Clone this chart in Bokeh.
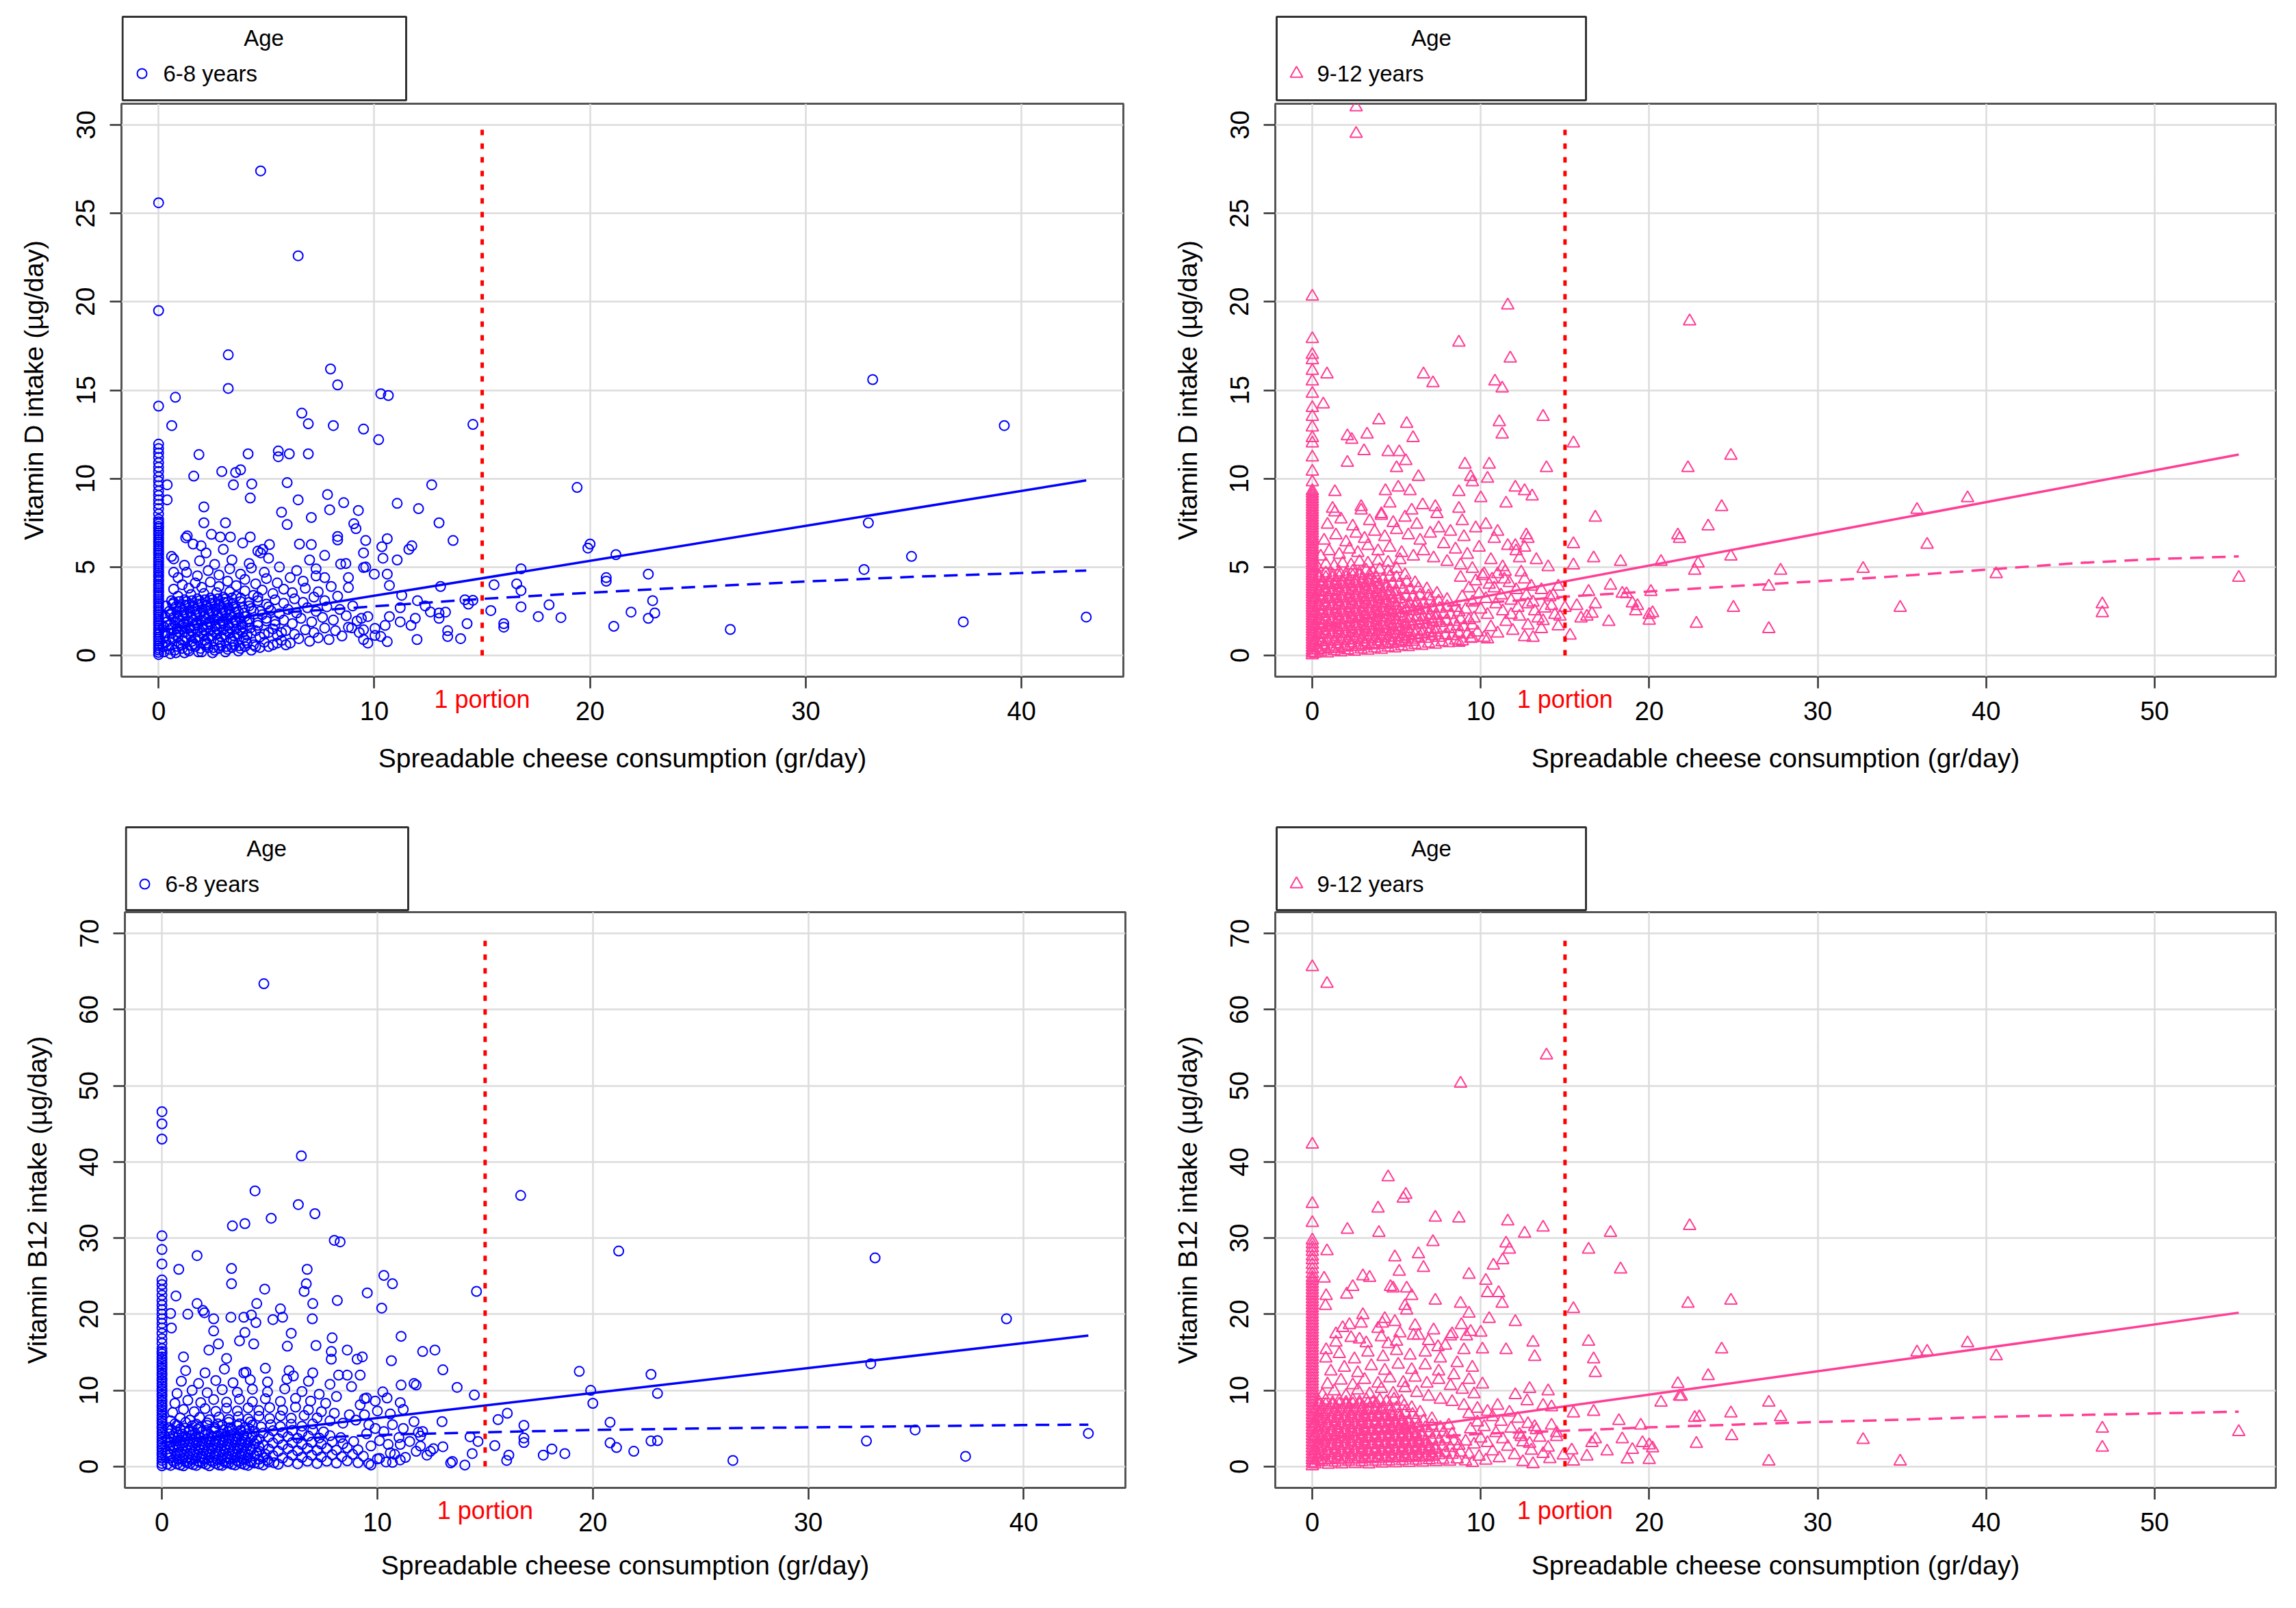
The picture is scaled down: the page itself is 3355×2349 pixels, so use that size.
from bokeh.plotting import figure
from bokeh.models import Range1d, FixedTicker, LinearAxis
from bokeh.layouts import column, row
from bokeh.embed import file_html
from bokeh.resources import INLINE
from bokeh.core.properties import value

# ------------------------------------------------------------------ data
portion_gr = 15
x_title = "Spreadable cheese consumption (gr/day)"
legend_title = "Age"
group_young = "6-8 years"
group_old = "9-12 years"
vitd_title = "Vitamin D intake (\u00b5g/day)"
b12_title = "Vitamin B12 intake (\u00b5g/day)"

x_ticks_young = [0, 10, 20, 30, 40]
x_ticks_old = [0, 10, 20, 30, 40, 50]
vitd_ticks = [0, 5, 10, 15, 20, 25, 30]
b12_ticks = [0, 10, 20, 30, 40, 50, 60, 70]
vitd_ref_top = 30
b12_ref_top = 70

# --- Vitamin D, 6-8 years: children with zero consumption (x = 0)
vitd_young_zero = [0.05, 0.17, 0.31, 0.42, 0.56, 0.67, 0.81, 0.93, 1.04, 1.19, 1.3, 1.44, 1.55, 1.69, 1.8,
                   1.92, 2.06, 2.17, 2.31, 2.43, 2.54, 2.69, 2.8, 2.94, 3.05, 3.17, 3.31, 3.42, 3.56, 3.67,
                   3.81, 3.93, 4.04, 4.19, 4.3, 4.44, 4.55, 4.69, 4.8, 4.92, 5.06, 5.17, 5.31, 5.43, 5.54,
                   5.69, 5.8, 5.94, 6.05, 6.17, 6.31, 6.42, 6.56, 6.67, 6.81, 6.93, 7.04, 7.19, 7.3, 7.44,
                   7.56, 7.7, 8.0, 8.3, 8.55, 8.8, 9.05, 9.3, 9.6, 9.85, 10.1, 10.4, 10.65, 10.9, 11.2,
                   11.45, 11.7, 11.95, 14.1, 19.5, 25.6]
vitd_young_pts = [
    (4.73, 27.4), (6.47, 22.6), (3.23, 17.0), (3.23, 15.1), (0.78, 14.6), (0.61, 13.0), (7.97, 16.2),
    (8.3, 15.3), (8.1, 13.0), (6.64, 13.7), (6.94, 13.1), (10.3, 14.8), (10.65, 14.7), (9.5, 12.8),
    (10.2, 12.2), (14.57, 13.06), (33.1, 15.6), (39.2, 13.0), (32.9, 7.5), (32.7, 4.86), (34.9, 5.6),
    (37.3, 1.9), (43.0, 2.17), (26.5, 1.47), (19.4, 9.5), (19.9, 6.07), (20.0, 6.3), (21.2, 5.7),
    (20.75, 4.4), (20.75, 4.2), (22.7, 4.6), (22.9, 3.1), (23.0, 2.4), (22.7, 2.1), (21.9, 2.45),
    (21.1, 1.65), (18.65, 2.14), (18.1, 2.86), (17.6, 2.2), (16.8, 2.75), (16.8, 3.67), (16.6, 4.05),
    (16.8, 4.9), (15.55, 4.0), (15.4, 2.54), (16.0, 1.8), (16.0, 1.6), (14.3, 1.8), (14.0, 0.95),
    (13.4, 1.07), (13.4, 1.4), (13.3, 2.45), (13.0, 2.1), (13.07, 3.9), (13.65, 6.5), (13.0, 7.5),
    (12.66, 9.65), (12.05, 8.3), (11.06, 8.6), (11.74, 6.2), (11.6, 6.0), (10.6, 6.6), (10.35, 6.15),
    (10.4, 5.5), (11.06, 5.4), (10.6, 4.6), (10.7, 3.96), (9.6, 6.5), (9.5, 5.8), (9.6, 5.0),
    (9.5, 4.97), (9.26, 8.2), (9.05, 7.45), (9.15, 7.17), (8.58, 8.64), (7.83, 9.1), (7.93, 8.24),
    (8.3, 6.73), (8.3, 6.53), (7.08, 7.8), (6.47, 8.8), (5.96, 9.77), (5.96, 7.4), (5.7, 8.1),
    (6.94, 11.4), (6.06, 11.4), (5.55, 11.56), (5.55, 11.24), (4.15, 11.4), (1.87, 11.36), (2.93, 10.4),
    (3.8, 10.5), (3.57, 10.35), (3.47, 9.65), (4.32, 9.7), (4.25, 8.9), (1.63, 10.14), (0.4, 9.65),
    (0.4, 8.8), (2.1, 8.4), (2.1, 7.5), (3.1, 7.5), (1.26, 6.65), (1.33, 6.76), (0.6, 5.6), (0.7, 5.46),
    (0.7, 4.7), (1.97, 6.2), (2.45, 6.85), (2.86, 6.7), (3.33, 6.7), (3.9, 6.36), (4.25, 6.7),
    (4.83, 6.0), (5.14, 6.27), (4.73, 5.8), (6.53, 6.3), (7.08, 6.27), (7.7, 5.66), (7.0, 5.4),
    (7.3, 4.9), (8.44, 5.17), (8.68, 5.2), (10.0, 4.6), (7.7, 4.4), (8.8, 3.84), (8.8, 4.4),
    (12.0, 3.1), (11.98, 0.9), (11.2, 1.9), (11.7, 1.7), (11.9, 2.1), (12.36, 2.8), (12.6, 2.46),
    (13.0, 2.4), (14.36, 2.9), (14.2, 3.15), (14.57, 3.12), (11.2, 2.7), (11.27, 3.4), (10.7, 2.2),
    (10.5, 1.7), (10.6, 0.78), (10.03, 1.13), (9.7, 0.7), (9.5, 0.9), (9.5, 1.45), (8.95, 1.56),
    (9.4, 2.1), (10.03, 1.53), (10.3, 1.07)]
vitd_young_core = [
    (0.25, 0.2), (0.5, 0.35), (0.8, 0.15), (1.1, 0.4), (1.4, 0.25), (1.7, 0.5), (2.0, 0.2), (2.3, 0.45),
    (2.6, 0.3), (2.9, 0.55), (3.2, 0.35), (3.5, 0.6), (3.8, 0.4), (4.1, 0.7), (4.5, 0.5), (4.9, 0.75),
    (5.3, 0.6), (5.7, 0.85), (6.1, 0.7), (6.5, 0.95), (7.0, 0.8), (7.4, 1.0), (7.9, 0.9), (8.5, 1.1),
    (0.35, 0.75), (0.65, 0.95), (0.95, 0.7), (1.25, 1.0), (1.55, 0.8), (1.85, 1.05), (2.15, 0.85),
    (2.45, 1.1), (2.75, 0.9), (3.05, 1.15), (3.35, 0.95), (3.65, 1.2), (3.95, 1.0), (4.3, 1.25),
    (4.7, 1.05), (5.1, 1.3), (5.5, 1.15), (5.9, 1.4), (6.3, 1.2), (6.8, 1.45), (7.2, 1.3), (7.7, 1.55),
    (8.2, 1.4), (8.8, 1.6), (9.3, 1.3), (0.3, 1.3), (0.6, 1.55), (0.9, 1.35), (1.2, 1.6), (1.5, 1.4),
    (1.8, 1.7), (2.1, 1.45), (2.4, 1.75), (2.7, 1.5), (3.0, 1.8), (3.3, 1.55), (3.6, 1.85), (3.9, 1.6),
    (4.2, 1.9), (4.6, 1.7), (5.0, 1.95), (5.4, 1.75), (5.8, 2.0), (6.2, 1.8), (6.6, 2.1), (7.1, 1.9),
    (7.6, 2.15), (8.1, 2.0), (8.7, 2.25), (9.2, 1.95), (9.7, 2.2), (0.4, 1.9), (0.7, 2.15), (1.0, 1.95),
    (1.3, 2.25), (1.6, 2.0), (1.9, 2.3), (2.2, 2.05), (2.5, 2.35), (2.8, 2.1), (3.1, 2.4), (3.4, 2.15),
    (3.7, 2.45), (4.0, 2.2), (4.4, 2.5), (4.8, 2.3), (5.2, 2.55), (5.6, 2.35), (6.0, 2.6), (6.4, 2.4),
    (6.9, 2.7), (7.3, 2.5), (7.8, 2.75), (8.4, 2.6), (9.0, 2.8), (0.5, 2.5), (0.8, 2.75), (1.1, 2.55),
    (1.4, 2.85), (1.7, 2.6), (2.0, 2.9), (2.3, 2.65), (2.6, 2.95), (2.9, 2.7), (3.2, 3.0), (3.5, 2.75),
    (3.8, 3.05), (4.2, 2.8), (4.6, 3.1), (5.0, 2.9), (5.4, 3.15), (5.8, 2.95), (6.3, 3.2), (6.7, 3.0),
    (7.2, 3.3), (7.7, 3.1), (8.3, 3.35), (0.6, 3.1), (0.9, 3.35), (1.2, 3.15), (1.5, 3.45), (1.8, 3.2),
    (2.1, 3.5), (2.4, 3.25), (2.7, 3.55), (3.0, 3.3), (3.3, 3.6), (3.6, 3.35), (4.0, 3.65), (4.4, 3.4),
    (4.8, 3.7), (5.3, 3.5), (5.8, 3.75), (6.2, 3.55), (6.8, 3.8), (7.4, 3.6), (8.0, 3.9), (0.7, 3.75),
    (1.1, 4.0), (1.4, 3.8), (1.7, 4.1), (2.0, 3.85), (2.4, 4.15), (2.8, 3.9), (3.2, 4.2), (3.6, 3.95),
    (4.0, 4.3), (4.5, 4.05), (5.0, 4.35), (5.5, 4.1), (6.1, 4.4), (6.7, 4.2), (7.3, 4.5), (0.9, 4.4),
    (1.3, 4.7), (1.8, 4.5), (2.3, 4.8), (2.8, 4.55), (3.3, 4.9), (3.8, 4.6), (4.3, 4.95), (4.9, 4.7),
    (5.6, 5.0), (6.4, 4.8), (1.2, 5.1), (1.9, 5.35), (2.6, 5.15), (3.4, 5.4), (4.2, 5.2), (5.1, 5.5),
    (2.2, 5.8), (3.0, 6.0), (4.6, 5.9), (1.6, 6.3),
    (0.45, 0.55), (0.75, 0.3), (1.05, 0.6), (1.35, 0.35), (1.65, 0.65), (1.95, 0.4), (2.25, 0.7),
    (2.55, 0.45), (2.85, 0.75), (3.15, 0.5), (3.45, 0.8), (3.75, 0.55), (4.05, 0.85), (4.4, 0.6),
    (0.3, 1.1), (0.6, 1.25), (0.9, 1.05), (1.2, 1.3), (1.5, 1.1), (1.8, 1.35), (2.1, 1.15), (2.4, 1.4),
    (2.7, 1.2), (3.0, 1.45), (3.3, 1.25), (3.6, 1.5), (3.9, 1.3), (4.25, 1.55), (0.45, 1.7), (0.75, 1.85),
    (1.05, 1.65), (1.35, 1.9), (1.65, 1.7), (1.95, 1.95), (2.25, 1.75), (2.55, 2.0), (2.85, 1.8),
    (3.15, 2.05), (3.45, 1.85), (3.75, 2.1), (4.1, 1.9), (0.55, 2.3), (0.85, 2.45), (1.15, 2.25),
    (1.45, 2.5), (1.75, 2.3), (2.05, 2.55), (2.35, 2.35), (2.65, 2.6), (2.95, 2.4), (3.25, 2.65),
    (3.55, 2.45), (3.9, 2.7), (0.65, 2.9), (0.95, 3.05), (1.25, 2.85), (1.55, 3.1), (1.85, 2.9),
    (2.15, 3.15), (2.45, 2.95), (2.75, 3.2), (3.05, 3.0), (3.4, 3.25),
    (0.2, 0.5), (0.55, 0.1), (0.9, 0.5), (1.2, 0.15), (1.55, 0.55), (1.85, 0.2), (2.2, 0.6), (2.5, 0.15),
    (2.8, 0.4), (3.1, 0.2), (3.4, 0.45), (3.7, 0.25), (4.0, 0.5), (4.3, 0.3), (4.7, 0.45), (5.1, 0.5),
    (5.5, 0.7), (5.9, 0.6), (0.5, 0.95), (0.8, 1.15), (1.1, 0.85), (1.4, 1.2), (1.7, 0.95), (2.0, 1.25),
    (2.3, 1.0), (2.6, 1.3), (2.9, 1.05), (3.2, 1.35), (3.5, 1.1), (3.8, 1.4), (4.1, 1.15), (4.5, 1.4),
    (4.9, 1.2), (5.3, 1.5), (5.7, 1.3), (0.25, 1.6), (0.55, 1.75), (0.85, 1.5), (1.15, 1.8),
    (1.45, 1.55), (1.75, 1.85), (2.05, 1.6), (2.35, 1.9), (2.65, 1.65), (2.95, 1.95), (3.25, 1.7),
    (3.55, 2.0), (3.85, 1.75), (4.2, 2.05), (4.6, 1.85), (5.0, 2.1), (5.4, 1.95), (0.3, 2.2), (0.6, 2.4),
    (0.9, 2.15), (1.2, 2.45), (1.5, 2.2), (1.8, 2.5), (2.1, 2.25), (2.4, 2.55), (2.7, 2.3), (3.0, 2.6),
    (3.3, 2.35), (3.6, 2.65), (3.95, 2.4), (4.3, 2.65), (4.7, 2.5), (5.1, 2.75), (0.35, 2.8), (0.7, 3.0),
    (1.0, 2.75), (1.3, 3.05), (1.6, 2.8), (1.9, 3.1), (2.2, 2.85), (2.5, 3.15), (2.8, 2.9), (3.1, 3.2),
    (3.45, 2.95), (3.8, 3.25), (4.2, 3.0), (4.6, 3.3)]
vitd_young_fit_x = [0, 43]
vitd_young_fit_y = [1.4, 9.9]
vitd_young_smooth_x = [6, 8, 10, 15, 20, 25, 30, 35, 40, 43]
vitd_young_smooth_y = [2.45, 2.6, 2.78, 3.2, 3.55, 3.88, 4.18, 4.45, 4.66, 4.8]

# --- Vitamin D, 9-12 years
vitd_old_zero = [0.02, 0.15, 0.29, 0.44, 0.6, 0.74, 0.9, 1.05, 1.19, 1.35, 1.5, 1.64, 1.8, 1.95, 2.1,
                 2.24, 2.4, 2.55, 2.7, 2.85, 3.0, 3.14, 3.3, 3.45, 3.6, 3.74, 3.9, 4.05, 4.2, 4.35, 4.5,
                 4.64, 4.8, 4.95, 5.1, 5.24, 5.4, 5.55, 5.7, 5.85, 6.0, 6.14, 6.3, 6.45, 6.6, 6.74, 6.9,
                 7.05, 7.2, 7.35, 7.5, 7.64, 7.8, 7.95, 8.1, 8.24, 8.4, 8.55, 8.7, 8.85, 9.0, 9.15, 9.3,
                 9.8, 10.4, 11.2, 12.0, 12.3, 12.9, 13.5, 14.0, 14.8, 15.5, 16.1, 16.7, 17.0, 17.9, 20.3]
vitd_old_pts = [
    (2.6, 31.0), (2.6, 29.5), (11.6, 19.8), (22.4, 18.9), (8.7, 17.7), (11.75, 16.8), (0.87, 15.9),
    (6.6, 15.9), (7.16, 15.4), (10.84, 15.5), (11.27, 15.1), (0.65, 14.2), (13.7, 13.5), (3.95, 13.3),
    (5.6, 13.1), (11.1, 13.2), (11.27, 12.5), (2.08, 12.4), (2.34, 12.2), (3.25, 12.5), (5.98, 12.3),
    (15.5, 12.0), (3.07, 11.56), (4.5, 11.5), (5.16, 11.5), (5.55, 11.0), (2.08, 10.9), (5.0, 10.6),
    (9.06, 10.8), (10.5, 10.8), (13.9, 10.6), (22.3, 10.6), (24.85, 11.3), (6.3, 10.1), (9.4, 10.1),
    (10.4, 10.0), (9.5, 9.8), (10.0, 8.9), (1.34, 9.25), (4.34, 9.3), (5.1, 9.5), (5.8, 9.3),
    (8.7, 9.25), (12.05, 9.5), (12.6, 9.3), (13.05, 9.0), (1.34, 8.1), (2.9, 8.2), (4.1, 8.0),
    (6.55, 8.5), (7.3, 8.4), (8.7, 8.3), (11.5, 8.6), (16.8, 7.8), (24.3, 8.4), (23.5, 7.3),
    (21.7, 6.8), (21.8, 6.6), (15.5, 6.3), (12.7, 6.8), (12.8, 6.6), (12.05, 6.2), (12.1, 5.9),
    (16.7, 5.5), (15.5, 5.1), (14.0, 5.0), (18.3, 5.3), (20.7, 5.3), (22.9, 5.2), (22.7, 4.8),
    (24.85, 5.6), (27.8, 4.8), (32.7, 4.9), (35.9, 8.24), (36.5, 6.27), (38.9, 8.9), (40.6, 4.6),
    (55.0, 4.4), (46.9, 2.9), (46.9, 2.4), (34.9, 2.7), (27.1, 3.9), (27.1, 1.5), (25.0, 2.7),
    (22.8, 1.8), (20.0, 2.3), (20.0, 1.97), (20.2, 2.4), (20.1, 3.6), (19.3, 2.8), (19.2, 2.5),
    (19.0, 2.95), (18.65, 3.47), (18.4, 3.5), (17.7, 3.96), (17.6, 1.9), (16.8, 2.9), (16.6, 2.37),
    (16.3, 2.2), (15.95, 2.1), (15.3, 1.13), (16.4, 3.6), (15.7, 2.8), (15.0, 2.7), (14.4, 2.3),
    (13.8, 2.66), (14.3, 3.4), (13.1, 1.0), (12.6, 1.04), (13.6, 1.5), (13.4, 2.1), (14.6, 1.65),
    (12.8, 2.9), (11.8, 2.3), (10.4, 0.92), (9.5, 0.98), (8.7, 0.72), (12.4, 4.7), (11.45, 4.74),
    (10.67, 4.3)]
vitd_old_core = [
    (0.15, 0.1), (0.5, 0.2), (0.9, 0.12), (1.3, 0.25), (1.7, 0.18), (2.1, 0.3), (2.5, 0.22), (2.9, 0.35),
    (3.3, 0.28), (3.7, 0.4), (4.1, 0.33), (4.5, 0.45), (4.9, 0.4), (5.3, 0.52), (5.7, 0.48), (6.1, 0.6),
    (6.5, 0.55), (6.9, 0.68), (7.3, 0.62), (7.7, 0.75), (8.1, 0.7), (8.5, 0.85), (8.9, 0.8),
    (0.3, 0.45), (0.7, 0.6), (1.1, 0.5), (1.5, 0.65), (1.9, 0.55), (2.3, 0.7), (2.7, 0.6), (3.1, 0.75),
    (3.5, 0.65), (3.9, 0.8), (4.3, 0.7), (4.7, 0.85), (5.1, 0.8), (5.5, 0.95), (5.9, 0.9), (6.3, 1.0),
    (6.7, 0.95), (7.1, 1.1), (7.5, 1.0), (7.9, 1.15), (8.3, 1.1), (8.7, 1.25), (9.2, 1.2),
    (0.2, 0.85), (0.6, 1.0), (1.0, 0.9), (1.4, 1.05), (1.8, 0.95), (2.2, 1.1), (2.6, 1.0), (3.0, 1.15),
    (3.4, 1.05), (3.8, 1.2), (4.2, 1.1), (4.6, 1.25), (5.0, 1.2), (5.4, 1.35), (5.8, 1.3), (6.2, 1.4),
    (6.6, 1.35), (7.0, 1.5), (7.4, 1.45), (7.8, 1.55), (8.2, 1.5), (8.6, 1.65), (9.0, 1.6), (9.5, 1.7),
    (0.35, 1.25), (0.75, 1.4), (1.15, 1.3), (1.55, 1.45), (1.95, 1.35), (2.35, 1.5), (2.75, 1.4),
    (3.15, 1.55), (3.55, 1.45), (3.95, 1.6), (4.35, 1.5), (4.75, 1.65), (5.15, 1.6), (5.55, 1.75),
    (5.95, 1.7), (6.35, 1.8), (6.75, 1.75), (7.15, 1.9), (7.55, 1.85), (7.95, 1.95), (8.4, 1.9),
    (8.8, 2.05), (9.3, 2.0), (0.2, 1.65), (0.6, 1.8), (1.0, 1.7), (1.4, 1.85), (1.8, 1.75), (2.2, 1.9),
    (2.6, 1.8), (3.0, 1.95), (3.4, 1.85), (3.8, 2.0), (4.2, 1.9), (4.6, 2.05), (5.0, 2.0), (5.4, 2.15),
    (5.8, 2.1), (6.2, 2.2), (6.6, 2.15), (7.0, 2.3), (7.4, 2.25), (7.8, 2.35), (8.2, 2.3), (8.7, 2.45),
    (0.35, 2.05), (0.75, 2.2), (1.15, 2.1), (1.55, 2.25), (1.95, 2.15), (2.35, 2.3), (2.75, 2.2),
    (3.15, 2.35), (3.55, 2.25), (3.95, 2.4), (4.35, 2.3), (4.75, 2.45), (5.15, 2.4), (5.55, 2.55),
    (5.95, 2.5), (6.35, 2.6), (6.75, 2.55), (7.15, 2.7), (7.55, 2.65), (8.0, 2.75), (8.5, 2.7),
    (0.2, 2.45), (0.6, 2.6), (1.0, 2.5), (1.4, 2.65), (1.8, 2.55), (2.2, 2.7), (2.6, 2.6), (3.0, 2.75),
    (3.4, 2.65), (3.8, 2.8), (4.2, 2.7), (4.6, 2.85), (5.0, 2.8), (5.4, 2.95), (5.8, 2.9), (6.2, 3.0),
    (6.6, 2.95), (7.0, 3.1), (7.5, 3.05), (8.0, 3.15), (0.35, 2.85), (0.75, 3.0), (1.15, 2.9),
    (1.55, 3.05), (1.95, 2.95), (2.35, 3.1), (2.75, 3.0), (3.15, 3.15), (3.55, 3.05), (3.95, 3.2),
    (4.35, 3.1), (4.75, 3.25), (5.15, 3.2), (5.55, 3.35), (5.95, 3.3), (6.4, 3.4), (6.9, 3.35),
    (7.4, 3.5), (0.2, 3.25), (0.6, 3.4), (1.0, 3.3), (1.4, 3.45), (1.8, 3.35), (2.2, 3.5), (2.6, 3.4),
    (3.0, 3.55), (3.4, 3.45), (3.8, 3.6), (4.2, 3.5), (4.6, 3.65), (5.0, 3.6), (5.4, 3.75), (5.8, 3.7),
    (6.3, 3.8), (6.8, 3.75), (0.35, 3.65), (0.75, 3.8), (1.15, 3.7), (1.55, 3.85), (1.95, 3.75),
    (2.35, 3.9), (2.75, 3.8), (3.15, 3.95), (3.55, 3.85), (3.95, 4.0), (4.35, 3.9), (4.75, 4.05),
    (5.15, 4.0), (5.6, 4.15), (6.1, 4.1), (0.2, 4.05), (0.6, 4.2), (1.0, 4.1), (1.4, 4.25), (1.8, 4.15),
    (2.2, 4.3), (2.6, 4.2), (3.0, 4.35), (3.4, 4.25), (3.8, 4.4), (4.2, 4.3), (4.6, 4.45), (5.0, 4.4),
    (5.5, 4.55), (0.4, 4.5), (0.8, 4.65), (1.2, 4.55), (1.6, 4.7), (2.0, 4.6), (2.4, 4.75), (2.8, 4.65),
    (3.2, 4.8), (3.6, 4.7), (4.0, 4.85), (4.5, 4.75), (5.0, 4.9), (0.3, 5.0), (0.8, 5.15), (1.3, 5.05),
    (1.8, 5.2), (2.3, 5.1), (2.8, 5.3), (3.3, 5.2), (3.9, 5.35), (4.5, 5.25), (5.2, 5.4),
    (0.5, 5.6), (1.0, 5.9), (1.6, 5.7), (2.2, 6.0), (2.7, 5.8), (3.3, 6.2), (3.9, 5.9), (4.6, 6.1),
    (5.3, 5.8), (6.0, 5.6), (6.6, 5.9), (7.2, 5.5), (8.0, 5.3), (8.8, 5.1), (9.5, 4.9), (10.2, 4.6),
    (0.7, 6.5), (1.4, 6.8), (2.0, 6.4), (2.6, 6.9), (3.1, 6.6), (3.7, 7.0), (4.3, 6.7), (5.0, 7.1),
    (5.7, 6.8), (6.4, 6.5), (7.0, 6.9), (7.8, 6.3), (8.5, 6.0), (9.2, 5.7), (9.9, 6.1), (10.6, 5.4),
    (11.3, 5.0), (0.9, 7.4), (1.7, 7.7), (2.4, 7.3), (3.4, 7.6), (4.1, 7.9), (4.8, 7.5), (5.5, 7.8),
    (6.2, 7.4), (7.5, 7.2), (8.2, 7.0), (9.0, 6.7), (9.7, 7.2), (10.8, 6.6), (11.6, 6.2), (12.3, 5.5),
    (1.2, 8.3), (2.9, 8.4), (4.6, 8.6), (5.9, 8.2), (7.4, 8.0), (8.9, 7.6), (10.3, 7.4), (11.0, 7.0),
    (12.6, 6.1), (13.3, 5.4), (9.4, 0.95), (9.8, 1.3), (10.2, 1.0), (10.6, 1.6), (11.0, 1.25),
    (11.5, 1.9), (11.9, 1.4), (12.3, 2.2), (12.8, 1.7), (13.2, 2.5), (13.7, 1.95), (14.2, 2.8),
    (14.7, 2.2), (9.6, 2.1), (10.0, 2.6), (10.4, 2.3), (10.9, 2.9), (11.3, 2.5), (11.8, 3.1),
    (12.2, 2.7), (12.7, 3.4), (13.1, 3.0), (13.6, 3.7), (14.1, 3.3), (14.6, 3.9), (9.5, 3.0),
    (9.9, 3.5), (10.3, 3.2), (10.8, 3.8), (11.2, 3.4), (11.7, 4.1), (12.1, 3.7), (12.6, 4.3),
    (13.0, 3.9), (9.7, 4.2), (10.1, 4.5), (10.5, 4.0), (11.0, 4.6), (11.4, 4.3), (9.3, 3.8),
    (8.9, 3.3), (9.1, 2.6), (8.8, 4.4),
    (0.35, 0.3), (0.75, 0.35), (1.15, 0.4), (1.55, 0.38), (1.95, 0.45), (2.35, 0.5), (2.75, 0.48),
    (3.15, 0.55), (3.55, 0.58), (3.95, 0.6), (4.35, 0.62), (4.75, 0.66), (5.15, 0.7), (5.55, 0.74),
    (5.95, 0.78), (0.5, 0.75), (0.9, 0.78), (1.3, 0.8), (1.7, 0.82), (2.1, 0.85), (2.5, 0.88),
    (2.9, 0.9), (3.3, 0.92), (3.7, 0.95), (4.1, 0.98), (4.5, 1.0), (4.9, 1.02), (5.3, 1.05), (5.7, 1.1),
    (6.1, 1.15), (6.5, 1.2), (6.9, 1.25), (7.3, 1.3), (0.4, 1.15), (0.8, 1.2), (1.2, 1.18), (1.6, 1.25),
    (2.0, 1.22), (2.4, 1.28), (2.8, 1.25), (3.2, 1.32), (3.6, 1.3), (4.0, 1.36), (4.4, 1.34), (4.8, 1.4),
    (5.2, 1.42), (5.6, 1.5), (0.5, 1.55), (0.9, 1.6), (1.3, 1.58), (1.7, 1.62), (2.1, 1.6), (2.5, 1.66),
    (2.9, 1.64), (3.3, 1.7), (3.7, 1.68), (4.1, 1.74), (4.5, 1.72), (4.9, 1.8), (5.3, 1.82), (5.7, 1.9),
    (6.1, 1.95), (6.5, 2.0), (6.9, 2.05), (7.3, 2.1), (0.4, 1.95), (0.8, 2.0), (1.2, 1.98), (1.6, 2.04),
    (2.0, 2.02), (2.4, 2.08), (2.8, 2.06), (3.2, 2.12), (3.6, 2.1), (4.0, 2.16), (4.4, 2.14), (4.8, 2.2),
    (5.2, 2.22), (0.5, 2.35), (0.9, 2.4), (1.3, 2.38), (1.7, 2.44), (2.1, 2.42), (2.5, 2.48),
    (2.9, 2.46), (3.3, 2.52), (3.7, 2.5), (4.1, 2.56), (4.5, 2.54), (4.9, 2.6), (5.3, 2.62), (5.7, 2.7),
    (6.1, 2.75), (0.4, 2.75), (0.8, 2.8), (1.2, 2.78), (1.6, 2.84), (2.0, 2.82), (2.4, 2.88),
    (2.8, 2.86), (3.2, 2.92), (3.6, 2.9), (4.0, 2.96), (4.4, 2.94), (4.8, 3.0), (0.5, 3.15), (0.9, 3.2),
    (1.3, 3.18), (1.7, 3.24), (2.1, 3.22), (2.5, 3.28), (2.9, 3.26), (3.3, 3.32), (3.7, 3.3),
    (4.1, 3.36), (4.5, 3.4), (4.9, 3.45), (0.4, 3.55), (0.8, 3.6), (1.2, 3.58), (1.6, 3.64), (2.0, 3.62),
    (2.4, 3.68), (2.8, 3.66), (3.2, 3.72), (3.6, 3.7), (4.0, 3.76), (4.4, 3.8), (0.5, 3.95), (0.9, 4.0),
    (1.3, 3.98), (1.7, 4.04), (2.1, 4.02), (2.5, 4.08), (2.9, 4.06), (3.3, 4.12), (3.7, 4.15),
    (0.4, 4.35), (0.8, 4.4), (1.2, 4.38), (1.6, 4.44), (2.0, 4.42), (2.4, 4.48), (2.8, 4.5), (3.4, 4.55)]
vitd_old_fit_x = [0, 55]
vitd_old_fit_y = [1.5, 11.36]
vitd_old_smooth_x = [8, 10, 15, 20, 25, 30, 35, 40, 45, 50, 55]
vitd_old_smooth_y = [2.8, 2.95, 3.32, 3.62, 3.92, 4.2, 4.5, 4.85, 5.2, 5.45, 5.6]

# --- Vitamin B12, 6-8 years
b12_young_zero = [0.1, 0.4, 0.8, 1.1, 1.5, 1.8, 2.2, 2.5, 2.9, 3.2, 3.6, 3.9, 4.3, 4.6, 5.0, 5.3, 5.7,
                  6.0, 6.4, 6.7, 7.1, 7.4, 7.8, 8.1, 8.5, 8.8, 9.2, 9.5, 9.9, 10.2, 10.6, 10.9, 11.3,
                  11.6, 12.0, 12.3, 12.7, 13.0, 13.4, 13.7, 14.1, 14.4, 14.8, 15.1, 15.5, 16.2, 16.8,
                  17.5, 18.2, 18.8, 19.4, 20.0, 20.6, 21.2, 21.8, 22.5, 23.2, 23.9, 24.5, 26.6, 28.5,
                  30.3, 43.0, 45.0, 46.6]
b12_young_pts = [
    (4.73, 63.4), (6.47, 40.8), (4.32, 36.2), (16.65, 35.6), (6.33, 34.4), (7.1, 33.2), (5.07, 32.6),
    (3.27, 31.6), (3.85, 31.9), (8.0, 29.7), (8.27, 29.5), (21.2, 28.3), (33.1, 27.4), (1.63, 27.7),
    (0.78, 25.9), (3.23, 26.0), (6.74, 25.9), (10.3, 25.1), (10.7, 24.0), (3.23, 24.0), (6.7, 24.0),
    (4.77, 23.3), (6.6, 23.0), (9.53, 22.8), (14.6, 23.0), (0.65, 22.4), (8.14, 21.8), (4.4, 21.4),
    (1.63, 21.4), (7.0, 21.4), (1.9, 20.5), (1.97, 20.2), (5.5, 20.7), (10.2, 20.8), (1.2, 20.0),
    (3.2, 19.6), (3.8, 19.6), (6.98, 19.4), (5.6, 19.6), (4.15, 19.9), (0.4, 20.1), (5.15, 19.3),
    (39.2, 19.4), (0.44, 18.2), (2.4, 19.4), (4.36, 18.9), (3.85, 17.6), (2.4, 17.8), (6.0, 17.5),
    (7.9, 16.9), (11.1, 17.1), (3.6, 16.5), (4.26, 16.1), (7.15, 15.9), (2.62, 16.1), (5.82, 15.8),
    (7.86, 15.1), (8.6, 15.3), (12.1, 15.1), (12.67, 15.3), (2.18, 15.3), (1.0, 14.4), (7.86, 14.1),
    (9.06, 14.1), (9.3, 14.4), (10.65, 13.9), (3.0, 14.2), (32.9, 13.5), (19.37, 12.5), (22.7, 12.1),
    (13.04, 12.7), (8.6, 12.0), (9.2, 12.0), (6.1, 11.9), (3.8, 12.3), (11.1, 10.7), (11.7, 10.9),
    (11.8, 10.7), (13.7, 10.4), (14.5, 9.4), (19.9, 10.0), (23.0, 9.6), (20.0, 8.3), (11.06, 8.4),
    (10.45, 9.0), (10.25, 9.8), (9.4, 8.9), (9.5, 9.0), (13.0, 5.9), (16.8, 5.4), (16.8, 3.75),
    (16.8, 3.15), (20.8, 5.8), (20.8, 3.1), (21.1, 2.5), (22.7, 3.35), (23.0, 3.4), (21.9, 2.0),
    (18.7, 1.7), (18.1, 2.3), (17.7, 1.5), (16.1, 1.5), (16.0, 0.8), (15.45, 2.75), (15.6, 6.16),
    (16.03, 7.0), (14.67, 3.3), (14.3, 3.9), (14.4, 1.7), (14.06, 0.2), (13.4, 0.47), (13.48, 0.67),
    (13.04, 2.6), (12.6, 2.34), (12.46, 2.0), (12.0, 2.68), (11.9, 4.5), (12.1, 4.6), (11.06, 2.9),
    (26.5, 0.8), (32.7, 3.35), (34.96, 4.8), (37.3, 1.34), (43.0, 4.35), (10.6, 1.8), (10.1, 1.07),
    (10.7, 0.54), (9.7, 0.2), (11.06, 0.87)]
b12_young_core = [
    (0.25, 0.3), (0.55, 0.6), (0.85, 0.2), (1.15, 0.5), (1.45, 0.25), (1.75, 0.55), (2.05, 0.3),
    (2.35, 0.6), (2.65, 0.2), (2.95, 0.5), (3.25, 0.3), (3.55, 0.6), (3.85, 0.25), (4.15, 0.55),
    (4.5, 0.35), (4.95, 0.6), (5.4, 0.3), (5.85, 0.65), (6.3, 0.35), (6.75, 0.7), (7.2, 0.4),
    (7.65, 0.7), (8.1, 0.45), (8.6, 0.75), (9.1, 0.5), (0.35, 1.1), (0.65, 1.4), (0.95, 1.0),
    (1.25, 1.3), (1.55, 1.05), (1.85, 1.35), (2.15, 1.1), (2.45, 1.4), (2.75, 1.0), (3.05, 1.3),
    (3.35, 1.1), (3.65, 1.4), (3.95, 1.05), (4.3, 1.35), (4.7, 1.15), (5.15, 1.45), (5.6, 1.1),
    (6.05, 1.5), (6.5, 1.2), (6.95, 1.5), (7.4, 1.25), (7.9, 1.55), (8.35, 1.3), (8.85, 1.6),
    (9.35, 1.35), (0.25, 1.9), (0.55, 2.2), (0.85, 1.85), (1.15, 2.15), (1.45, 1.9), (1.75, 2.2),
    (2.05, 1.95), (2.35, 2.25), (2.65, 1.9), (2.95, 2.2), (3.25, 1.95), (3.55, 2.25), (3.85, 1.9),
    (4.15, 2.2), (4.5, 2.0), (4.95, 2.3), (5.4, 2.0), (5.85, 2.35), (6.3, 2.05), (6.75, 2.4),
    (7.2, 2.1), (7.65, 2.4), (8.1, 2.15), (8.6, 2.45), (9.1, 2.2), (0.35, 2.7), (0.65, 3.0),
    (0.95, 2.65), (1.25, 2.95), (1.55, 2.7), (1.85, 3.0), (2.15, 2.75), (2.45, 3.05), (2.75, 2.7),
    (3.05, 3.0), (3.35, 2.75), (3.65, 3.05), (3.95, 2.7), (4.3, 3.0), (4.7, 2.8), (5.15, 3.1),
    (5.6, 2.85), (6.05, 3.15), (6.5, 2.9), (6.95, 3.2), (7.4, 2.95), (7.9, 3.25), (8.4, 3.0),
    (8.9, 3.3), (0.25, 3.5), (0.55, 3.8), (0.85, 3.45), (1.15, 3.75), (1.45, 3.5), (1.75, 3.8),
    (2.05, 3.55), (2.35, 3.85), (2.65, 3.5), (2.95, 3.8), (3.25, 3.55), (3.55, 3.85), (3.85, 3.5),
    (4.15, 3.8), (4.5, 3.6), (4.95, 3.9), (5.4, 3.65), (5.85, 3.95), (6.3, 3.7), (6.8, 4.0),
    (7.3, 3.75), (7.8, 4.05), (8.3, 3.8), (0.35, 4.3), (0.65, 4.6), (0.95, 4.25), (1.25, 4.55),
    (1.55, 4.3), (1.85, 4.6), (2.15, 4.35), (2.45, 4.65), (2.75, 4.3), (3.05, 4.6), (3.35, 4.35),
    (3.65, 4.65), (3.95, 4.3), (4.3, 4.6), (4.7, 4.4), (5.15, 4.7), (5.6, 4.45), (6.05, 4.75),
    (6.5, 4.5), (7.0, 4.8), (7.5, 4.55), (0.3, 5.1), (0.7, 5.4), (1.05, 5.05), (1.4, 5.35),
    (1.75, 5.1), (2.1, 5.4), (2.45, 5.15), (2.8, 5.45), (3.15, 5.1), (3.5, 5.4), (3.85, 5.15),
    (4.2, 5.45), (4.6, 5.2), (5.05, 5.5), (5.5, 5.25), (6.0, 5.55), (6.5, 5.3), (7.0, 5.6),
    (0.4, 6.0), (0.85, 6.4), (1.3, 6.1), (1.75, 6.45), (2.2, 6.15), (2.65, 6.5), (3.1, 6.2),
    (3.55, 6.55), (4.0, 6.25), (4.5, 6.6), (5.0, 6.3), (5.5, 6.65), (6.0, 6.35), (6.6, 6.7),
    (7.2, 6.4), (7.8, 6.0), (8.4, 5.7), (9.0, 6.1), (9.6, 5.5), (0.5, 7.1), (1.0, 7.5), (1.5, 7.2),
    (2.0, 7.6), (2.5, 7.25), (3.0, 7.65), (3.5, 7.3), (4.0, 7.7), (4.5, 7.35), (5.0, 7.75),
    (5.6, 7.4), (6.2, 7.8), (6.8, 7.45), (7.4, 7.2), (8.0, 7.0), (8.7, 6.8), (0.6, 8.3), (1.2, 8.7),
    (1.8, 8.4), (2.4, 8.8), (3.0, 8.45), (3.6, 8.85), (4.2, 8.5), (4.8, 8.9), (5.5, 8.55),
    (6.2, 8.95), (6.9, 8.6), (7.6, 8.3), (0.7, 9.6), (1.4, 10.0), (2.1, 9.7), (2.8, 10.1),
    (3.5, 9.75), (4.2, 10.15), (4.9, 9.8), (5.7, 10.2), (6.5, 9.85), (7.3, 9.5), (8.1, 9.2),
    (0.9, 11.2), (1.7, 10.9), (2.5, 11.3), (3.3, 11.0), (4.1, 11.4), (4.9, 11.1), (5.8, 11.5),
    (6.8, 11.2), (7.8, 10.8), (8.8, 10.5), (1.1, 12.6), (2.0, 12.3), (2.9, 12.8), (3.9, 12.4),
    (4.8, 12.9), (5.9, 12.6), (7.0, 12.3), (8.2, 12.0), (9.6, 0.4), (10.0, 1.0), (10.4, 0.6),
    (10.8, 1.6), (11.3, 1.2), (11.8, 2.0), (12.3, 1.5), (9.7, 2.7), (10.1, 3.4), (10.5, 2.9),
    (11.0, 3.8), (11.5, 3.3), (12.0, 4.0), (9.5, 4.3), (9.9, 5.0), (10.3, 4.6), (10.7, 5.5),
    (11.2, 5.0), (11.7, 5.9), (9.4, 6.8), (10.0, 7.3), (10.6, 6.9), (11.2, 7.5), (9.2, 8.1),
    (9.9, 8.6),
    (0.4, 0.15), (0.7, 0.35), (1.0, 0.1), (1.3, 0.4), (1.6, 0.15), (1.9, 0.45), (2.2, 0.1), (2.5, 0.4),
    (2.8, 0.15), (3.1, 0.45), (3.4, 0.2), (3.7, 0.4), (4.0, 0.15), (4.3, 0.45), (4.7, 0.2), (5.2, 0.5),
    (0.5, 0.8), (0.8, 0.95), (1.1, 0.75), (1.4, 0.9), (1.7, 0.7), (2.0, 0.95), (2.3, 0.8), (2.6, 0.9),
    (2.9, 0.75), (3.2, 0.95), (3.5, 0.8), (3.8, 0.9), (4.1, 0.75), (4.5, 0.95), (4.9, 0.85),
    (0.4, 1.6), (0.7, 1.75), (1.0, 1.55), (1.3, 1.7), (1.6, 1.5), (1.9, 1.75), (2.2, 1.6), (2.5, 1.7),
    (2.8, 1.55), (3.1, 1.75), (3.4, 1.6), (3.7, 1.7), (4.0, 1.55), (4.4, 1.75), (4.8, 1.6),
    (0.5, 2.4), (0.8, 2.55), (1.1, 2.35), (1.4, 2.5), (1.7, 2.35), (2.0, 2.55), (2.3, 2.4), (2.6, 2.5),
    (2.9, 2.35), (3.2, 2.55), (3.5, 2.4), (3.8, 2.5), (4.1, 2.35), (4.5, 2.6), (0.4, 3.2), (0.7, 3.35),
    (1.0, 3.15), (1.3, 3.3), (1.6, 3.15), (1.9, 3.35), (2.2, 3.2), (2.5, 3.3), (2.8, 3.15), (3.1, 3.35),
    (3.4, 3.2), (3.7, 3.3), (4.0, 3.15), (4.4, 3.4), (0.5, 4.0), (0.8, 4.15), (1.1, 3.95), (1.4, 4.1),
    (1.7, 3.95), (2.0, 4.15), (2.3, 4.0), (2.6, 4.1), (2.9, 3.95), (3.2, 4.15), (3.5, 4.0), (3.8, 4.1),
    (4.2, 4.0), (0.45, 4.8), (0.85, 4.95), (1.25, 4.75), (1.65, 4.9), (2.05, 4.75), (2.45, 4.95),
    (2.85, 4.8), (3.25, 4.9), (3.65, 4.75), (4.05, 4.95), (0.6, 5.6), (1.1, 5.8), (1.6, 5.55),
    (2.1, 5.75), (2.6, 5.6), (3.1, 5.8), (3.6, 5.6), (4.1, 5.85)]
b12_young_fit_x = [0, 43]
b12_young_fit_y = [3.1, 17.2]
b12_young_smooth_x = [6, 8, 10, 15, 20, 25, 30, 35, 40, 43]
b12_young_smooth_y = [3.6, 3.9, 4.15, 4.5, 4.8, 5.0, 5.15, 5.3, 5.45, 5.5]

# --- Vitamin B12, 9-12 years
b12_old_zero = [0.05, 0.45, 0.85, 1.2, 1.6, 2.0, 2.4, 2.8, 3.2, 3.6, 4.0, 4.4, 4.8, 5.2, 5.6, 6.0, 6.4,
                6.8, 7.2, 7.6, 8.0, 8.4, 8.8, 9.2, 9.6, 10.0, 10.4, 10.8, 11.2, 11.6, 12.0, 12.4, 12.8,
                13.2, 13.6, 14.0, 14.4, 14.8, 15.2, 15.6, 16.0, 16.4, 16.8, 17.2, 17.6, 18.0, 18.4, 18.8,
                19.2, 19.6, 20.0, 20.4, 20.8, 21.2, 21.6, 22.0, 22.4, 22.8, 23.2, 23.6, 24.0, 24.4, 24.8,
                25.3, 25.9, 26.5, 27.1, 27.6, 28.2, 28.7, 29.2, 29.7, 32.0, 34.5, 42.3, 65.6]
b12_old_pts = [
    (0.87, 63.4), (13.9, 54.0), (8.8, 50.3), (4.5, 38.0), (5.55, 35.7), (5.4, 35.2), (3.9, 33.9),
    (3.95, 30.7), (7.3, 32.7), (8.7, 32.6), (11.6, 32.2), (22.4, 31.6), (13.7, 31.4), (12.6, 30.6),
    (17.7, 30.7), (2.08, 31.1), (7.16, 29.5), (11.5, 29.3), (11.7, 28.5), (0.87, 28.3), (16.4, 28.5),
    (6.3, 27.9), (4.9, 27.5), (11.3, 27.1), (10.75, 26.4), (6.6, 26.1), (18.3, 25.9), (5.16, 25.6),
    (0.7, 24.7), (3.0, 25.0), (3.4, 24.8), (9.3, 25.2), (10.3, 24.4), (4.64, 23.6), (4.8, 23.4),
    (5.6, 23.4), (2.4, 23.6), (2.04, 22.6), (0.82, 22.4), (5.9, 22.4), (10.4, 22.8), (11.06, 22.8),
    (7.3, 21.8), (8.8, 21.4), (11.27, 21.4), (22.3, 21.4), (24.85, 21.8), (15.5, 20.7), (3.0, 19.9),
    (4.3, 19.4), (5.6, 20.5), (5.5, 21.1), (0.78, 21.1), (9.3, 20.1), (10.5, 19.4), (12.05, 19.0),
    (4.16, 18.8), (1.4, 17.4), (2.2, 18.6), (8.85, 18.6), (9.4, 17.7), (9.15, 17.1), (10.0, 17.6),
    (8.2, 17.1), (6.3, 17.2), (5.2, 17.5), (2.8, 16.7), (4.5, 16.1), (7.46, 15.7), (16.4, 16.4),
    (13.1, 16.3), (11.5, 15.3), (10.1, 15.4), (0.82, 15.3), (24.3, 15.4), (35.9, 15.0), (36.5, 15.1),
    (38.9, 16.2), (40.6, 14.5), (16.7, 14.1), (13.2, 14.4), (16.8, 12.3), (23.5, 11.9), (21.7, 10.85),
    (21.8, 9.2), (20.7, 8.4), (27.1, 8.4), (14.0, 9.9), (12.9, 10.2), (12.05, 9.4), (15.5, 7.0),
    (16.7, 7.2), (24.85, 7.0), (27.8, 6.5), (22.7, 6.4), (22.97, 6.5), (18.2, 6.0), (19.5, 5.4),
    (21.9, 9.2), (24.9, 4.0), (22.8, 3.0), (32.7, 3.5), (46.9, 5.0), (46.9, 2.5), (55.0, 4.55),
    (34.9, 0.67), (27.1, 0.67), (20.0, 2.8), (20.0, 0.87), (20.2, 2.4), (19.6, 3.1), (19.0, 2.2),
    (18.7, 0.94), (18.4, 3.6), (17.5, 2.0), (16.8, 3.6), (16.6, 3.1), (16.3, 1.34), (15.5, 0.67),
    (15.4, 2.14), (14.9, 1.47), (14.1, 1.0), (14.5, 3.9), (14.2, 5.4), (13.2, 5.2), (13.1, 0.33),
    (13.7, 1.67), (12.5, 0.6), (12.9, 3.0), (12.4, 3.9), (14.2, 7.8), (13.7, 8.0), (12.75, 8.6)]
b12_old_core = [
    (0.15, 0.3), (0.55, 0.6), (0.95, 0.25), (1.35, 0.55), (1.75, 0.3), (2.15, 0.65), (2.55, 0.35),
    (2.95, 0.6), (3.35, 0.3), (3.75, 0.65), (4.15, 0.4), (4.55, 0.7), (4.95, 0.45), (5.35, 0.75),
    (5.75, 0.5), (6.15, 0.8), (6.55, 0.55), (6.95, 0.85), (7.35, 0.6), (7.75, 0.9), (8.15, 0.65),
    (8.6, 0.95), (9.1, 0.7), (0.3, 1.2), (0.7, 1.5), (1.1, 1.15), (1.5, 1.45), (1.9, 1.2), (2.3, 1.5),
    (2.7, 1.25), (3.1, 1.55), (3.5, 1.2), (3.9, 1.5), (4.3, 1.3), (4.7, 1.6), (5.1, 1.35), (5.5, 1.65),
    (5.9, 1.4), (6.3, 1.7), (6.7, 1.45), (7.1, 1.75), (7.5, 1.5), (7.9, 1.8), (8.3, 1.55), (8.8, 1.85),
    (9.3, 1.6), (0.15, 2.1), (0.55, 2.4), (0.95, 2.05), (1.35, 2.35), (1.75, 2.1), (2.15, 2.4),
    (2.55, 2.15), (2.95, 2.45), (3.35, 2.1), (3.75, 2.4), (4.15, 2.2), (4.55, 2.5), (4.95, 2.25),
    (5.35, 2.55), (5.75, 2.3), (6.15, 2.6), (6.55, 2.35), (6.95, 2.65), (7.35, 2.4), (7.75, 2.7),
    (8.2, 2.45), (8.7, 2.75), (0.3, 3.0), (0.7, 3.3), (1.1, 2.95), (1.5, 3.25), (1.9, 3.0), (2.3, 3.3),
    (2.7, 3.05), (3.1, 3.35), (3.5, 3.0), (3.9, 3.3), (4.3, 3.1), (4.7, 3.4), (5.1, 3.15), (5.5, 3.45),
    (5.9, 3.2), (6.3, 3.5), (6.7, 3.25), (7.1, 3.55), (7.5, 3.3), (7.9, 3.6), (8.4, 3.35),
    (0.15, 3.9), (0.55, 4.2), (0.95, 3.85), (1.35, 4.15), (1.75, 3.9), (2.15, 4.2), (2.55, 3.95),
    (2.95, 4.25), (3.35, 3.9), (3.75, 4.2), (4.15, 4.0), (4.55, 4.3), (4.95, 4.05), (5.35, 4.35),
    (5.75, 4.1), (6.15, 4.4), (6.55, 4.15), (6.95, 4.45), (7.35, 4.2), (7.8, 4.5), (8.3, 4.25),
    (0.3, 4.8), (0.7, 5.1), (1.1, 4.75), (1.5, 5.05), (1.9, 4.8), (2.3, 5.1), (2.7, 4.85), (3.1, 5.15),
    (3.5, 4.8), (3.9, 5.1), (4.3, 4.9), (4.7, 5.2), (5.1, 4.95), (5.5, 5.25), (5.9, 5.0), (6.3, 5.3),
    (6.7, 5.05), (7.1, 5.35), (7.6, 5.1), (8.1, 5.4), (0.15, 5.7), (0.55, 6.0), (0.95, 5.65),
    (1.35, 5.95), (1.75, 5.7), (2.15, 6.0), (2.55, 5.75), (2.95, 6.05), (3.35, 5.7), (3.75, 6.0),
    (4.15, 5.8), (4.55, 6.1), (4.95, 5.85), (5.35, 6.15), (5.75, 5.9), (6.15, 6.2), (6.6, 5.95),
    (7.1, 6.25), (0.3, 6.6), (0.7, 6.9), (1.1, 6.55), (1.5, 6.85), (1.9, 6.6), (2.3, 6.9), (2.7, 6.65),
    (3.1, 6.95), (3.5, 6.6), (3.9, 6.9), (4.3, 6.7), (4.7, 7.0), (5.1, 6.75), (5.5, 7.05), (5.95, 6.8),
    (6.4, 7.1), (0.2, 7.5), (0.6, 7.8), (1.0, 7.45), (1.4, 7.75), (1.8, 7.5), (2.2, 7.8), (2.6, 7.55),
    (3.0, 7.85), (3.4, 7.5), (3.8, 7.8), (4.2, 7.6), (4.6, 7.9), (5.0, 7.65), (5.45, 7.95), (5.9, 7.7),
    (0.4, 8.4), (0.8, 8.7), (1.2, 8.35), (1.6, 8.65), (2.0, 8.4), (2.4, 8.7), (2.8, 8.45), (3.2, 8.75),
    (3.6, 8.4), (4.0, 8.7), (4.4, 8.5), (4.85, 8.8), (5.3, 8.55), (0.6, 9.4), (1.3, 9.9), (2.0, 9.3),
    (2.7, 10.0), (3.4, 9.5), (4.1, 10.2), (4.8, 9.6), (5.5, 10.3), (6.2, 9.7), (6.9, 9.2), (7.6, 8.8),
    (8.3, 8.5), (9.0, 8.0), (0.9, 10.8), (1.7, 11.3), (2.4, 10.7), (3.1, 11.4), (3.9, 10.9),
    (4.6, 11.6), (5.4, 11.0), (6.1, 11.7), (6.8, 10.9), (7.5, 11.4), (8.2, 10.6), (8.9, 10.1),
    (9.6, 9.5), (1.1, 12.5), (1.9, 13.0), (2.7, 12.3), (3.5, 13.2), (4.3, 12.6), (5.1, 13.4),
    (5.9, 12.7), (6.7, 13.3), (7.5, 12.5), (8.4, 12.0), (9.3, 11.4), (10.1, 10.8), (0.8, 14.2),
    (1.6, 14.8), (2.5, 14.1), (3.3, 15.0), (4.2, 14.4), (5.0, 15.2), (5.8, 14.6), (6.7, 15.0),
    (7.6, 14.2), (8.6, 13.6), (9.5, 13.0), (1.4, 16.3), (2.3, 16.9), (3.2, 16.2), (4.1, 17.0),
    (5.0, 16.4), (6.0, 17.2), (6.9, 16.5), (7.9, 15.9), (9.0, 15.3), (1.8, 18.2), (2.9, 18.8),
    (3.9, 18.1), (4.9, 19.0), (6.1, 18.5), (7.2, 17.9), (8.3, 17.4), (9.5, 0.5), (9.9, 1.3),
    (10.3, 0.8), (10.7, 2.0), (11.1, 1.1), (11.6, 2.6), (12.0, 1.5), (12.5, 3.2), (13.0, 2.1),
    (13.5, 3.8), (14.0, 2.5), (14.5, 4.4), (9.6, 2.9), (10.0, 3.7), (10.4, 3.1), (10.9, 4.4),
    (11.3, 3.6), (11.8, 5.0), (12.3, 4.2), (12.8, 5.6), (13.3, 4.8), (9.4, 4.9), (9.8, 5.8),
    (10.2, 5.2), (10.7, 6.5), (11.2, 5.9), (11.7, 7.1), (12.2, 6.3), (9.3, 6.9), (9.8, 7.6),
    (10.4, 7.2), (11.0, 8.0), (9.1, 3.3),
    (0.35, 0.8), (0.75, 0.9), (1.15, 0.85), (1.55, 0.95), (1.95, 0.9), (2.35, 1.0), (2.75, 0.95),
    (3.15, 1.05), (3.55, 1.0), (3.95, 1.1), (4.35, 1.05), (4.75, 1.15), (5.15, 1.1), (5.55, 1.2),
    (5.95, 1.15), (6.35, 1.25), (6.75, 1.2), (7.15, 1.3), (0.5, 1.7), (0.9, 1.8), (1.3, 1.75),
    (1.7, 1.85), (2.1, 1.8), (2.5, 1.9), (2.9, 1.85), (3.3, 1.95), (3.7, 1.9), (4.1, 2.0), (4.5, 1.95),
    (4.9, 2.05), (5.3, 2.0), (5.7, 2.1), (6.1, 2.05), (6.5, 2.15), (6.9, 2.1), (7.3, 2.2), (0.35, 2.6),
    (0.75, 2.7), (1.15, 2.65), (1.55, 2.75), (1.95, 2.7), (2.35, 2.8), (2.75, 2.75), (3.15, 2.85),
    (3.55, 2.8), (3.95, 2.9), (4.35, 2.85), (4.75, 2.95), (5.15, 2.9), (5.55, 3.0), (5.95, 2.95),
    (6.35, 3.05), (6.8, 3.0), (0.5, 3.5), (0.9, 3.6), (1.3, 3.55), (1.7, 3.65), (2.1, 3.6), (2.5, 3.7),
    (2.9, 3.65), (3.3, 3.75), (3.7, 3.7), (4.1, 3.8), (4.5, 3.75), (4.9, 3.85), (5.3, 3.8), (5.7, 3.9),
    (6.1, 3.85), (6.5, 3.95), (0.35, 4.4), (0.75, 4.5), (1.15, 4.45), (1.55, 4.55), (1.95, 4.5),
    (2.35, 4.6), (2.75, 4.55), (3.15, 4.65), (3.55, 4.6), (3.95, 4.7), (4.35, 4.65), (4.75, 4.75),
    (5.15, 4.7), (5.55, 4.8), (5.95, 4.75), (0.5, 5.3), (0.9, 5.4), (1.3, 5.35), (1.7, 5.45),
    (2.1, 5.4), (2.5, 5.5), (2.9, 5.45), (3.3, 5.55), (3.7, 5.5), (4.1, 5.6), (4.5, 5.55), (4.9, 5.65),
    (5.3, 5.6), (5.7, 5.7), (0.35, 6.2), (0.75, 6.3), (1.15, 6.25), (1.55, 6.35), (1.95, 6.3),
    (2.35, 6.4), (2.75, 6.35), (3.15, 6.45), (3.55, 6.4), (3.95, 6.5), (4.35, 6.45), (4.75, 6.55),
    (5.2, 6.5), (0.5, 7.1), (0.9, 7.2), (1.3, 7.15), (1.7, 7.25), (2.1, 7.2), (2.5, 7.3), (2.9, 7.25),
    (3.3, 7.35), (3.7, 7.3), (4.1, 7.4), (4.6, 7.35), (0.4, 8.0), (0.8, 8.1), (1.2, 8.05), (1.6, 8.15),
    (2.0, 8.1), (2.4, 8.2), (2.8, 8.15), (3.3, 8.25), (3.8, 8.2)]
b12_old_fit_x = [0, 55]
b12_old_fit_y = [3.3, 20.2]
b12_old_smooth_x = [8, 10, 15, 20, 25, 30, 35, 40, 45, 50, 55]
b12_old_smooth_y = [4.0, 4.3, 4.7, 5.15, 5.5, 5.85, 6.15, 6.5, 6.75, 6.97, 7.2]

# ------------------------------------------------------------------ style
BLUE = "#0000FF"
PINK = "#FF3E96"
RED = "#FF0000"
FONT = "Liberation Sans"
CIRCLE_SIZE = 14
TRI_SIZE = 18


def add_points(p, g, xs, ys):
    if g["marker"] == "circle":
        p.scatter(xs, ys, marker="circle", size=CIRCLE_SIZE, fill_color=None,
                  line_color=g["color"], line_width=2)
    else:
        p.scatter(xs, ys, marker="triangle", size=TRI_SIZE, fill_color=None,
                  line_color=g["color"], line_width=2)


def legend_strip(g):
    """Strip above each panel holding the boxed legend; its frame is aligned with the panel frame."""
    w, h = g["w"], g["leg_h"]
    fw = g["frame_w"]
    top = g["leg_fig_top"]
    frame_left = g["fig_left"] + g["mbl"]
    lp = figure(width=w, height=h, x_range=Range1d(0, fw), y_range=Range1d(0, h),
                output_backend="svg", toolbar_location=None,
                min_border_left=g["mbl"], min_border_right=w - g["mbl"] - fw,
                min_border_top=0, min_border_bottom=0,
                x_axis_type=None, y_axis_type=None)
    lp.outline_line_color = None
    lp.background_fill_color = "white"
    lp.border_fill_color = "white"
    lp.xgrid.visible = False
    lp.ygrid.visible = False

    def sx(px):
        return max(px - frame_left, 1.6)

    def sy(py):
        return top + h - py

    L, T, R, B = g["leg"]
    lp.quad(left=[sx(L)], right=[sx(R)], top=[sy(T)], bottom=[sy(B)], fill_color=None,
            line_color="#333333", line_width=3)
    lp.text(x=[sx((L + R) / 2)], y=[sy(T + 31)], text=[legend_title], text_font=value(FONT),
            text_font_size=value("33px"), text_align="center", text_baseline="middle",
            text_color="#000000")
    add_points(lp, g, [sx(g["mk_x"])], [sy(T + 83)])
    lp.text(x=[sx(g["tx_x"])], y=[sy(T + 83)], text=[g["group"]], text_font=value(FONT),
            text_font_size=value("33px"), text_align="left", text_baseline="middle",
            text_color="#000000")
    return lp


def panel(g):
    xr, yr = g["xr"], g["yr"]
    fw, fh = g["frame_w"], g["frame_h"]
    p = figure(width=g["w"], height=g["h"], x_range=Range1d(*xr), y_range=Range1d(*yr),
               output_backend="svg", toolbar_location=None,
               min_border_left=g["mbl"], min_border_right=g["w"] - g["mbl"] - fw,
               min_border_top=g["mbt"], min_border_bottom=g["h"] - g["mbt"] - fh)
    p.background_fill_color = "white"
    p.border_fill_color = "white"
    p.outline_line_color = "#555555"
    p.outline_line_width = 3

    p.xaxis.ticker = FixedTicker(ticks=g["xticks"])
    p.yaxis.ticker = FixedTicker(ticks=g["yticks"])
    p.xgrid.ticker = FixedTicker(ticks=g["xticks"])
    p.ygrid.ticker = FixedTicker(ticks=g["yticks"])
    p.grid.grid_line_color = "#DCDCDC"
    p.grid.grid_line_width = 2.5

    for ax in (p.xaxis[0], p.yaxis[0]):
        ax.axis_line_color = None
        ax.major_tick_out = 17
        ax.major_tick_in = 0
        ax.minor_tick_out = 0
        ax.minor_tick_in = 0
        ax.major_tick_line_color = "#333333"
        ax.major_tick_line_width = 2.5
        ax.major_label_text_font = FONT
        ax.major_label_text_font_size = "38px"
        ax.major_label_text_color = "#000000"
        ax.axis_label_text_font = FONT
        ax.axis_label_text_font_size = "39px"
        ax.axis_label_text_font_style = "normal"
        ax.axis_label_text_color = "#000000"
    p.yaxis.axis_label = g["ytitle"]
    p.yaxis.major_label_orientation = "vertical"
    p.xaxis.major_label_standoff = 19
    p.yaxis.major_label_standoff = 22
    p.yaxis.axis_label_standoff = 38

    # second bottom axis: red "1 portion" label + the x axis title
    pax = LinearAxis(ticker=FixedTicker(ticks=[portion_gr]),
                     major_label_overrides={portion_gr: "1 portion"})
    pax.axis_line_color = None
    pax.major_tick_line_color = None
    pax.minor_tick_line_color = None
    pax.major_tick_out = 0
    pax.major_tick_in = 0
    pax.minor_tick_out = 0
    pax.minor_tick_in = 0
    pax.major_label_text_color = RED
    pax.major_label_text_font = FONT
    pax.major_label_text_font_size = "36px"
    pax.major_label_standoff = -54
    pax.axis_label = x_title
    pax.axis_label_standoff = g["title_so"]
    pax.axis_label_text_font = FONT
    pax.axis_label_text_font_size = "39px"
    pax.axis_label_text_font_style = "normal"
    pax.axis_label_text_color = "#000000"
    p.add_layout(pax, "below")

    xs = [0.0] * len(g["zero"]) + [a for a, b in g["pts"]] + [a for a, b in g["core"]]
    ys = list(g["zero"]) + [b for a, b in g["pts"]] + [b for a, b in g["core"]]
    add_points(p, g, xs, ys)

    p.line(g["fit_x"], g["fit_y"], line_color=g["color"], line_width=3.5)
    p.line(g["sm_x"], g["sm_y"], line_color=g["color"], line_width=3.5, line_dash="20 12")
    p.line([portion_gr, portion_gr], [0, g["ref_top"]], line_color=RED, line_width=5,
           line_dash="8 12")
    return p


g1 = dict(w=1676, h=1030, mbl=177, mbt=3, frame_w=1464, frame_h=837, title_so=41,
          fig_left=0, leg_fig_top=0, leg_h=148,
          xr=(-1.72, 44.72), yr=(-1.2, 31.2),
          xticks=x_ticks_young, yticks=vitd_ticks, ytitle=vitd_title,
          zero=vitd_young_zero, pts=vitd_young_pts, core=vitd_young_core,
          marker="circle", color=BLUE, fit_x=vitd_young_fit_x, fit_y=vitd_young_fit_y,
          sm_x=vitd_young_smooth_x, sm_y=vitd_young_smooth_y, ref_top=vitd_ref_top,
          leg=(177, 24, 593, 146), mk_x=207, tx_x=238, group=group_young)
g2 = dict(w=1671, h=1030, mbl=187, mbt=3, frame_w=1462, frame_h=837, title_so=41,
          fig_left=1676, leg_fig_top=0, leg_h=148,
          xr=(-2.2, 57.2), yr=(-1.2, 31.2),
          xticks=x_ticks_old, yticks=vitd_ticks, ytitle=vitd_title,
          zero=vitd_old_zero, pts=vitd_old_pts, core=vitd_old_core,
          marker="triangle", color=PINK, fit_x=vitd_old_fit_x, fit_y=vitd_old_fit_y,
          sm_x=vitd_old_smooth_x, sm_y=vitd_old_smooth_y, ref_top=vitd_ref_top,
          leg=(1865, 24, 2317, 146), mk_x=1894, tx_x=1924, group=group_old)
g3 = dict(w=1676, h=1010, mbl=182, mbt=1, frame_w=1462, frame_h=841, title_so=35,
          fig_left=0, leg_fig_top=1178, leg_h=153,
          xr=(-1.72, 44.72), yr=(-2.8, 72.8),
          xticks=x_ticks_young, yticks=b12_ticks, ytitle=b12_title,
          zero=b12_young_zero, pts=b12_young_pts, core=b12_young_core,
          marker="circle", color=BLUE, fit_x=b12_young_fit_x, fit_y=b12_young_fit_y,
          sm_x=b12_young_smooth_x, sm_y=b12_young_smooth_y, ref_top=b12_ref_top,
          leg=(182, 1208, 596, 1329), mk_x=211, tx_x=241, group=group_young)
g4 = dict(w=1671, h=1010, mbl=187, mbt=1, frame_w=1462, frame_h=841, title_so=35,
          fig_left=1676, leg_fig_top=1178, leg_h=153,
          xr=(-2.2, 57.2), yr=(-2.8, 72.8),
          xticks=x_ticks_old, yticks=b12_ticks, ytitle=b12_title,
          zero=b12_old_zero, pts=b12_old_pts, core=b12_old_core,
          marker="triangle", color=PINK, fit_x=b12_old_fit_x, fit_y=b12_old_fit_y,
          sm_x=b12_old_smooth_x, sm_y=b12_old_smooth_y, ref_top=b12_ref_top,
          leg=(1865, 1208, 2317, 1329), mk_x=1894, tx_x=1924, group=group_old)


def block(g):
    return column(legend_strip(g), panel(g))


layout = column(row(block(g1), block(g2)), row(block(g3), block(g4)))
open("out.html", "w").write(file_html(layout, INLINE))
